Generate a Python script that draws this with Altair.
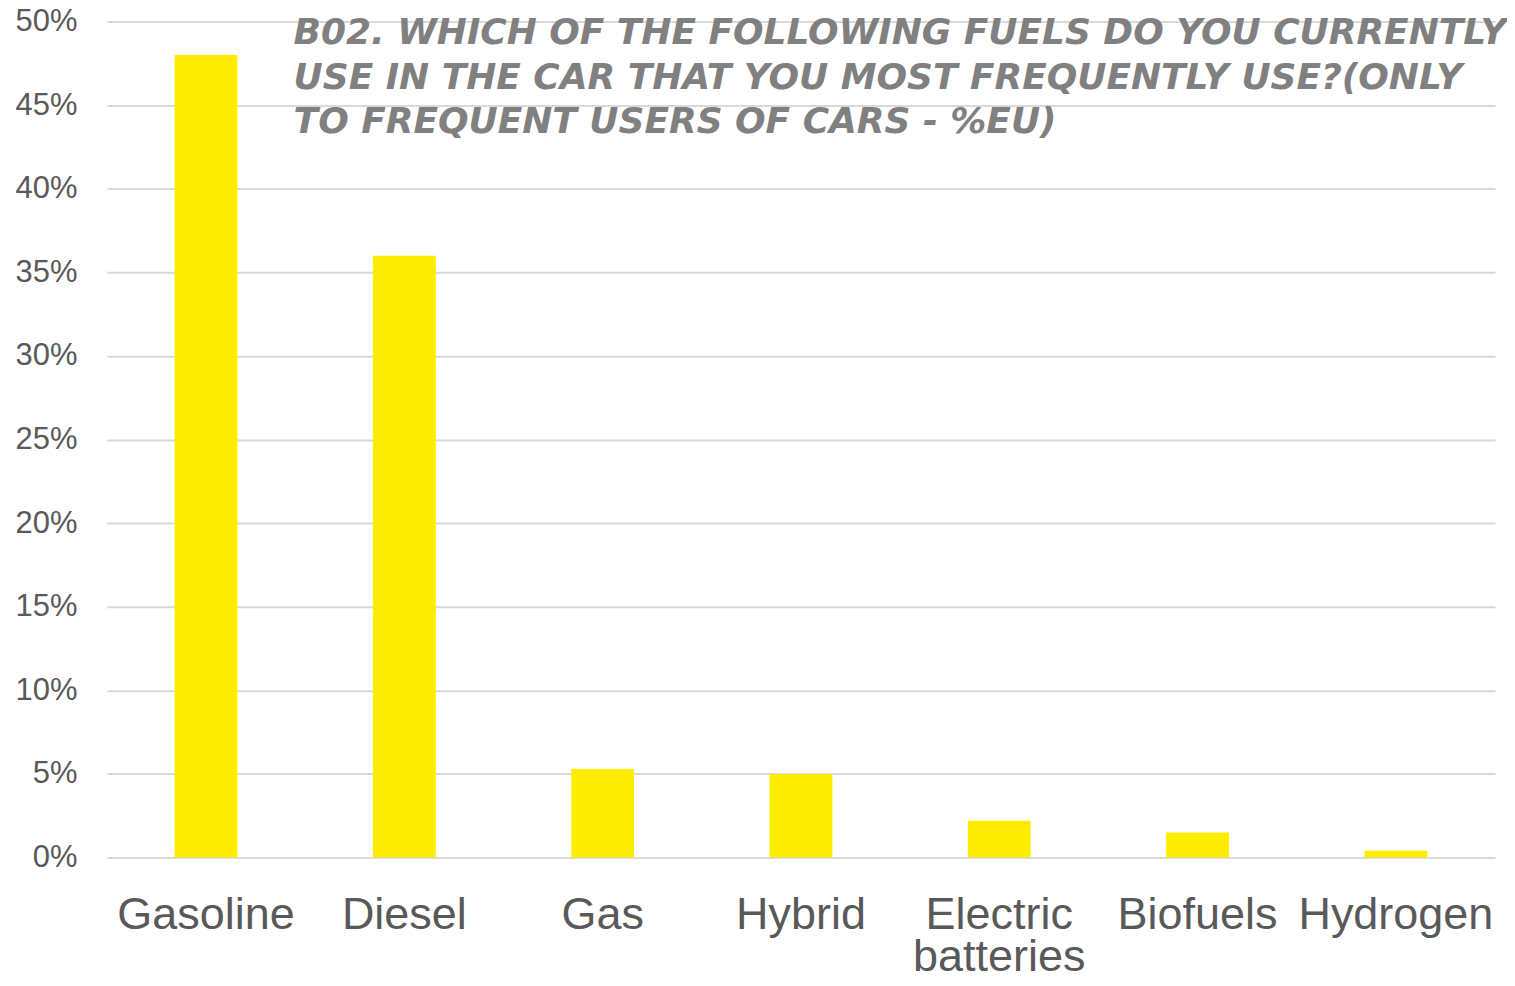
import altair as alt
import pandas as pd

fuels = ["Gasoline", "Diesel", "Gas", "Hybrid", "Electric batteries", "Biofuels", "Hydrogen"]
shares = [0.48, 0.36, 0.053, 0.05, 0.022, 0.015, 0.004]
y_ticks = [0, 0.05, 0.10, 0.15, 0.20, 0.25, 0.30, 0.35, 0.40, 0.45, 0.50]
title_lines = [
    "B02. WHICH OF THE FOLLOWING FUELS DO YOU CURRENTLY",
    "USE IN THE CAR THAT YOU MOST FREQUENTLY USE?(ONLY",
    "TO FREQUENT USERS OF CARS - %EU)",
]

df = pd.DataFrame({"fuel": fuels, "share": shares})

chart = (
    alt.Chart(df)
    .mark_bar(color="#FFED00")
    .encode(
        x=alt.X(
            "fuel:N",
            sort=fuels,
            title=None,
            scale=alt.Scale(paddingInner=0.683, paddingOuter=0.3415),
            axis=alt.Axis(
                labelAngle=0,
                labelFont="Liberation Sans",
                labelFontSize=45,
                labelColor="#595959",
                labelPadding=35,
                labelBaseline="top",
                labelLineHeight=42,
                labelLimit=0,
                labelExpr="datum.value == 'Electric batteries' ? ['Electric', 'batteries'] : datum.value",
                ticks=False,
                tickSize=0,
                domain=False,
                grid=False,
            ),
        ),
        y=alt.Y(
            "share:Q",
            title=None,
            scale=alt.Scale(domain=[0, 0.5], nice=False),
            axis=alt.Axis(
                values=y_ticks,
                format=".0%",
                labelFont="Liberation Sans",
                labelFontSize=31,
                labelColor="#595959",
                labelPadding=30,
                ticks=False,
                tickSize=0,
                domain=False,
                grid=True,
                gridColor="#D9D9D9",
                gridWidth=2,
            ),
        ),
    )
    .properties(
        width=1390,
        height=837,
        background="white",
        autosize=alt.AutoSizeParams(type="none"),
        padding={"left": 99, "top": 13, "right": 12, "bottom": 113},
        title=alt.TitleParams(
            text=title_lines,
            anchor="start",
            frame="group",
            orient="top",
            font="DejaVu Sans",
            fontSize=36,
            fontStyle="italic",
            fontWeight="bold",
            color="#808080",
            lineHeight=45,
            dx=187,
            dy=140,
        ),
    )
    .configure_view(stroke=None, strokeWidth=0)
)

chart.save("out.html", embed_options={"renderer": "svg", "actions": False})
